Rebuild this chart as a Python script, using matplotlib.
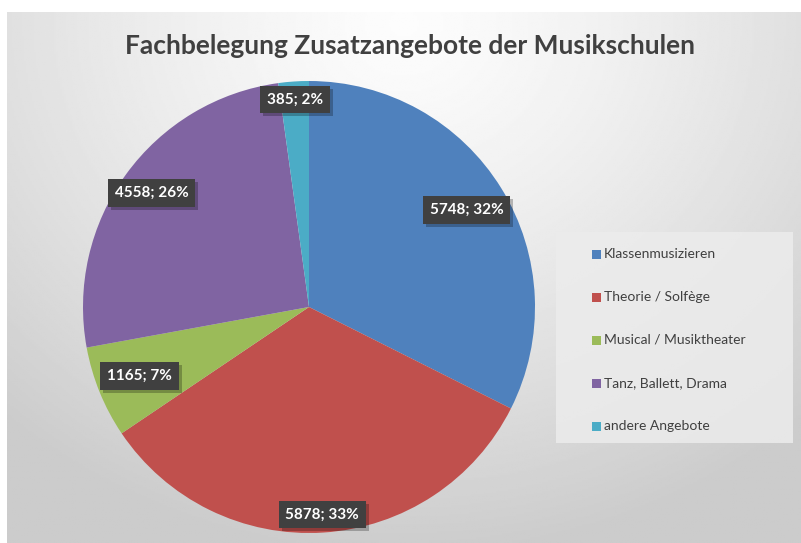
import numpy as np
import matplotlib.pyplot as plt
from matplotlib.patches import Rectangle

# Daten
kategorien = ["Klassenmusizieren", "Theorie / Solfège", "Musical / Musiktheater",
              "Tanz, Ballett, Drama", "andere Angebote"]
werte = [5748, 5878, 1165, 4558, 385]
farben = ["#4F81BD", "#C0504D", "#9BBB59", "#8064A2", "#4BACC6"]
titel = "Fachbelegung Zusatzangebote der Musikschulen"

# Abstand der Beschriftungen vom Mittelpunkt (Anteil des Radius)
label_abstand = [0.82, 0.92, 0.81, 0.86, 0.92]

W, H = 801, 543
fig = plt.figure(figsize=(W / 100, H / 100), dpi=100)
fig.patch.set_facecolor("white")

# Hintergrund mit radialem Verlauf
bg = fig.add_axes([7 / W, 0, 1 - 7 / W, 1 - 12 / H])
bg.set_axis_off()
yy, xx = np.mgrid[0:1:300j, 0:1:400j]
d = np.sqrt(((xx - 0.5) / 0.75) ** 2 + ((yy - 0.02) / 1.0) ** 2)
d = np.clip(d, 0, 1)
grau = 0.99 - 0.19 * d ** 1.3
bg.imshow(grau, cmap="gray", vmin=0, vmax=1, aspect="auto",
          extent=[0, 1, 0, 1], origin="upper")
bg.set_xlim(0, 1)
bg.set_ylim(0, 1)

fig.text(410 / W, 1 - 46 / H, titel, ha="center", va="center",
         fontsize=19, fontweight="bold", color="#404040", family="Lato")

# Kreisdiagramm
r_px = 226
cx, cy = 309, 307
ax = fig.add_axes([(cx - r_px) / W, (H - cy - r_px) / H, 2 * r_px / W, 2 * r_px / H])
ax.set_axis_off()
wedges, _ = ax.pie(werte, colors=farben, startangle=90, counterclock=False,
                   wedgeprops=dict(linewidth=0))
ax.set_xlim(-1, 1)
ax.set_ylim(-1, 1)

summe = sum(werte)
beschriftungen = []
for w, wert, ab in zip(wedges, werte, label_abstand):
    mitte = np.deg2rad((w.theta1 + w.theta2) / 2)
    x, y = ab * np.cos(mitte), ab * np.sin(mitte)
    txt = f"{wert}; {round(100 * wert / summe)}%"
    t = ax.text(x, y, txt, ha="center", va="center", fontsize=11,
                fontweight="bold", color="white", family="Lato", zorder=5,
                bbox=dict(boxstyle="square,pad=0.45", fc="#404040", ec="none"))
    beschriftungen.append(t)

# Schatten hinter den Beschriftungen
fig.canvas.draw()
for t in beschriftungen:
    bb = t.get_bbox_patch().get_window_extent()
    ax.add_patch(Rectangle((bb.x0 + 3, bb.y0 - 3), bb.width, bb.height,
                           transform=None, fc="black", ec="none",
                           alpha=0.25, zorder=4, clip_on=False))
ax.set_zorder(2)

# Legende
lg = fig.add_axes([556 / W, 1 - 443 / H, (793 - 556) / W, (443 - 232) / H])
lg.set_zorder(1)
lg.set_xlim(0, 237)
lg.set_ylim(211, 0)
lg.set_axis_off()
lg.add_patch(Rectangle((0, 0), 237, 211, fc="#ECECEC", ec="none", alpha=0.85))
for i, (k, f) in enumerate(zip(kategorien, farben)):
    y = 22 + i * 43
    lg.add_patch(Rectangle((36, y - 4.5), 9, 9, fc=f, ec="none"))
    lg.text(48, y, k, ha="left", va="center", fontsize=10, color="#404040", family="Lato")

fig.savefig("out.png", dpi=100)
